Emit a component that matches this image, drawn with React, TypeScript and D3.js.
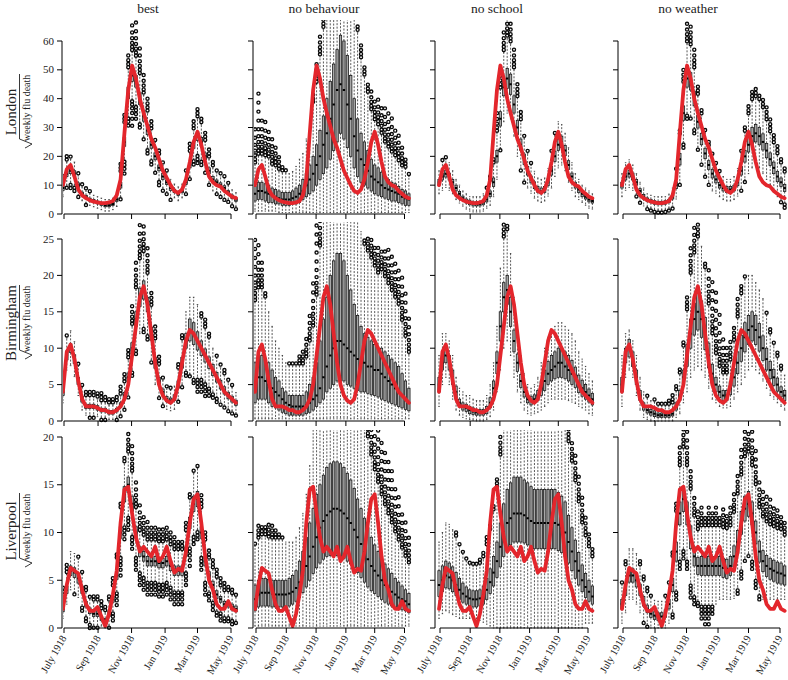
import React from 'react';
import * as d3 from 'd3';

// weekly time points (week ending), first one 29 June 1918
const firstWeek = new Date(1918, 5, 29);
const weeks = d3.range(46).map((i) => d3.timeDay.offset(firstWeek, 7 * i));

const tickLabels = ['July 1918', 'Sep 1918', 'Nov 1918', 'Jan 1919', 'Mar 1919', 'May 1919'];
const tickDates = [
  new Date(1918, 6, 1), new Date(1918, 8, 1), new Date(1918, 10, 1),
  new Date(1919, 0, 1), new Date(1919, 2, 1), new Date(1919, 4, 1),
];

const scenarios = ['best', 'no behaviour', 'no school', 'no weather'];
const cities = ['London', 'Birmingham', 'Liverpool'];

// observed sqrt(weekly flu deaths), red line
const londonObs = [10,15.5,17,13,8.5,6.5,5.5,4.8,4.3,4,3.8,3.8,4,4.5,6.5,12,28,43,51.5,47,40,35,30.5,26,23,19,15,12.5,10,8,7.3,8.5,12,18,25,28.5,24,18,13,11,10,9.5,8,7,6,5.5];
const birminghamObs = [4,9.5,10.5,8.5,5.5,3,2,2,2,1.8,1.5,1.5,1.2,1.2,1.5,2,3,5,9,13,17,18.5,16,12,8,5,3.5,2.8,2.5,3,5,8,11,12.5,12,11,10,9,8,7,6,5,4,3.5,3,2.5];
const liverpoolObs = [2,4.5,6.3,6,5.7,4,2.5,1.8,1.8,2.2,1.2,0.2,1.5,3.5,6,11,14.5,14.8,12,9.5,8,8.5,8,7.5,8.5,7,7.5,8.5,7,5.8,6.2,6,8,11,13.5,14,11,7.5,5,4,2.5,2,2,2.8,2,1.8];

// simulated boxplots: median, quartiles, extreme values (top / bot)
// London
const lonBestMed = [9,14,15,14,10,7,6,5,4.5,4,3.5,3,3,3.5,5,10,25,42,48,46,40,34,29,24,20,16,13,11,9,8,7,8,11,17,24,27,25,20,15,12,11,10,9,7.5,6,5];
const lonBestQ1 = [8.2,13,14,13,9.2,6.4,5.5,4.5,4,3.5,3,2.5,2.5,3,4.4,9,23.5,40,46,44,38,32.2,27.5,22.8,18.8,15,12,10.2,8.2,7.4,6.4,7.4,10.2,16,22.8,25.5,23.5,18.8,14,11,10.2,9.2,8.2,6.9,5.4,4.4];
const lonBestQ3 = [9.8,15,16,15,10.8,7.6,6.5,5.5,5,4.5,4,3.5,3.5,4,5.6,11,26.5,44,50,48,42,35.8,30.5,25.2,21.2,17,14,11.8,9.8,8.6,7.6,8.6,11.8,18,25.2,28.5,26.5,21.2,16,13,11.8,10.8,9.8,8.1,6.6,5.6];
const lonBestTop = [14,20,20,18,14,11,9,8,7,6,6,5,5,6,8,18,35,55,67,67,60,50,40,33,26,22,18,15,12,11,10,11,15,25,33,37,33,28,23,18,16,15,13,11,9,8];
const lonBestBot = [6,9,9,8,6,4,3,2.5,2,1.5,1,0.5,0.5,1,2,5,14,30,30,33,30,25,20,17,14,10,8,6,5,5,4,5,7,12,17,17,16,14,10,8,7,6,5,4,2,1];

const lonBehMed = [7,8,8,7.5,7,6.5,6,5.5,5,5,5,5.5,6,7,8,10,12,14,17,20,24,28,33,38,43,45,43,38,33,27,22,19,17,15,13,12,11,10,9,8.5,8,7.5,7,6,5.5,5];
const lonBehQ1 = [4.5,5,5,4.5,4,4,3.5,3.5,3,3,3,3.5,3.5,4,5,6,7,8,10,12,14,16,19,22,25,28,26,23,20,16,13,11,10,9,8,7,6.5,6,5.5,5,4.5,4.5,4,3.5,3,3];
const lonBehQ3 = [9.5,11,11,10.5,10,9,8.5,8,7.5,7.5,7.5,8,9,10,12,14,17,20,24,29,34,40,46,52,57,62,60,55,48,40,33,28,25,22,19,17,16,14.5,13,12,11,10.5,9.5,8.5,8,7];
const lonBehTop = [30,43,35,33,29,26,23,20,17,15,14,15,16.5,19,21,26,30,42,54,63,70,70,70,70,70,70,70,70,70,70,66,60,52,46,43,41,40,38,37,36,33,30,27,25,20,14];
const lonBehBot = [1,1,1,1,1,1,1,0.5,0.5,0.5,0.5,0.5,0.5,0.5,0.5,0.5,0.5,0.5,0.5,0.5,0.5,0.5,0.5,0.5,0.5,0.5,0.5,0.5,0.5,0.5,0.5,0.5,0.5,0.5,0.5,0.5,0.5,0.5,0.5,0.5,0.5,0.5,0.5,0.5,0.5,0.5];

const lonSchMed = [11,13,14,13,11,9,7,5.5,4.5,4,3.5,3.5,3.5,4,5,7,11,20,33,44,47,45,38,30,24,19,15,12,10,8.5,8,8.5,11,15,20,24,25,22,17,13,10,8.5,7,6,5,4.5];
const lonSchQ1 = [10,11.8,12.8,11.8,10,8,6.2,4.8,3.8,3.2,2.8,2.8,2.8,3.2,4.2,6,9.5,18,30.5,41,43.5,41.5,35,27.5,22,17.2,13.5,10.8,8.8,7.5,7,7.5,9.8,13.5,18.2,22,23,20.2,15.5,11.8,9,7.5,6,5.2,4.2,3.8];
const lonSchQ3 = [12,14.2,15.2,14.2,12,10,7.8,6.2,5.2,4.8,4.2,4.2,4.2,4.8,5.8,8,12.5,22,35.5,47,50.5,48.5,41,32.5,26,20.8,16.5,13.2,11.2,9.5,9,9.5,12.2,16.5,21.8,26,27,23.8,18.5,14.2,11,9.5,8,6.8,5.8,5.2];
const lonSchTop = [15,19,20,18,15,12,10,8,7,6,6,6,6,7,9,13,20,35,52,64,68,68,58,46,36,28,22,18,15,13,12,13,16,22,28,32,31,28,23,18,14,12,10,9,8,7];
const lonSchBot = [7,8,9,8,7,5,3.5,2,1.5,1,0.5,0.5,0.5,1,2,3,6,12,22,32,35,33,27,20,15,11,9,7,5.5,4.5,4,4.5,6,9,13,16,17,15,11,8,6,5,4,3,2,1];

const lonWeaMed = [10,13,14,13,11,8,6,5,4.5,4,3.8,3.8,4,4.5,6,10,19,35,47,46,40,32,26,21,17,14,12,10,9,8.5,8.5,9,11,15,20,24,27,28,27,25,22,19,16,13,11,9];
const lonWeaQ1 = [9,11.8,12.8,11.8,10,7.2,5.2,4.4,3.9,3.4,3.2,3.2,3.4,3.9,5.2,8.8,17,32.5,44,43,37.5,29.8,24,19.2,15.5,12.5,10.8,9,8,7.5,7.5,8,9.8,13.5,18,21.5,24,25,24,22.2,19.5,16.8,14,11.2,9.5,7.8];
const lonWeaQ3 = [11,14.2,15.2,14.2,12,8.8,6.8,5.6,5.1,4.6,4.4,4.4,4.6,5.1,6.8,11.2,21,37.5,50,49,42.5,34.2,28,22.8,18.5,15.5,13.2,11,10,9.5,9.5,10,12.2,16.5,22,26.5,30,31,30,27.8,24.5,21.2,18,14.8,12.5,10.2];
const lonWeaTop = [14,18,19,17,14,11,9,7,6.5,6,6,6,6,7,9,16,30,50,67,67,58,45,36,30,25,21,18,15,13,12,12,13,16,22,30,38,43,44,42,40,37,33,28,24,20,16];
const lonWeaBot = [6,8,9,8,6,4,2.5,1.5,1,0.8,0.5,0.5,0.5,1,2,5,10,22,33,33,28,22,17,13,10,8,6.5,5.5,5,4.5,4.5,5,6,8,11,14,16,17,16,14,12,10,8,6,4,2];

// Birmingham
const birBestMed = [4,9,10,8.5,5.5,3,2,2,2,1.8,1.5,1.5,1.2,1.2,1.5,2.2,3.5,6,10,14,17,18,16,12,8,5.5,4,3,2.8,3.2,5,8,11,12.5,12,11,10,9,8,7,6,5,4.2,3.5,3,2.5];
const birBestQ1 = [3.5,8.4,9.4,7.9,5,2.6,1.7,1.7,1.7,1.5,1.25,1.25,0.95,0.95,1.25,1.9,3.1,5.4,9.25,13,15.75,16.75,15,11.1,7.25,5,3.6,2.65,2.45,2.8,4.5,7.25,10,11,10.5,9.75,9,8.1,7.2,6.25,5.35,4.4,3.7,3.05,2.6,2.15];
const birBestQ3 = [4.5,9.6,10.6,9.1,6,3.4,2.3,2.3,2.3,2.1,1.75,1.75,1.45,1.45,1.75,2.5,3.9,6.6,10.75,15,18.25,19.25,17,12.9,8.75,6,4.4,3.35,3.15,3.6,5.5,8.75,12,14,13.5,12.25,11,9.9,8.8,7.75,6.65,5.6,4.7,3.95,3.4,2.85];
const birBestTop = [6,12,12.5,11,8,5,4,4,4,4,4,3.5,3,3,3.5,5,7,10,16,22,27,27,24,18,13,9,6,5,4.5,5,8,12,15,17,17,16,15,14,12,10,9,8,7,6,5,4];
const birBestBot = [2.5,7,7.5,6,3.5,1.5,0.8,0.5,0.5,0.5,0.2,0.2,0,0,0,0.5,1.5,3,6,9,12,12,11,8,5,3,2,1.5,1.2,1.5,2.5,4.5,6,6,5,4,3.5,3,3,3,2.5,2,1.5,1.2,0.8,0.5];

const birBehMed = [5,6,6,5.5,5,4.5,4,3.5,3,2.5,2.2,2,2,2,2,2.2,2.5,3,3.5,4.5,6,7.5,9,10,11,11,10.5,10,9.5,9,8.5,8,8,7.5,7.5,7,7,6.5,6,5.5,5,4.5,4,3.5,3,2.5];
const birBehQ1 = [2.5,3,3,3,2.5,2,1.8,1.5,1.2,1,0.8,0.8,0.8,0.8,0.8,1,1.2,1.5,2,2.5,3,4,4.5,5,5.5,5.5,5.5,5,4.8,4.5,4.2,4,4,3.8,3.6,3.5,3.3,3,2.8,2.6,2.4,2.2,2,1.8,1.6,1.4];
const birBehQ3 = [8,9,9,8.5,8,7,6,5.5,4.5,4,3.5,3.5,3.5,3.5,3.5,4,5,6,8,11,14,17,20,22,23,23,22,20,18,16,14.5,13,12,11.5,11,10.5,10,10,9.5,9,8.5,8,7.5,6.5,5.5,4.5];
const birBehTop = [25,25,22,18,15,13,11,10,9,8,8,8,8,9,10,12,15,20,27,28,28,28,28,28,28,28,28,28,28,28,28,26,25,25,25,24,24,24,24,24,23,22,21,20,18,15];
const birBehBot = [0.3,0.3,0.3,0.3,0.3,0.3,0.3,0.3,0.3,0.3,0.3,0.3,0.3,0.3,0.3,0.3,0.3,0.3,0.3,0.3,0.3,0.3,0.3,0.3,0.3,0.3,0.3,0.3,0.3,0.3,0.3,0.3,0.3,0.3,0.3,0.3,0.3,0.3,0.3,0.3,0.3,0.3,0.3,0.3,0.3,0.3];

const birSchMed = [5,8,9,8,6,4,2.5,2,1.8,1.5,1.3,1.2,1.2,1.2,1.5,2.5,4.5,8,13,17,18,15,11,8,5.5,4,3,2.8,3,3.5,4.5,5.5,6.5,7,7.5,8,8,7.5,7,6.5,6,5,4.5,4,3.5,3];
const birSchQ1 = [4,7,8,7,5,3.2,2,1.5,1.3,1,0.9,0.8,0.8,0.8,1,1.8,3.5,6.5,11,15,16,13,9.5,6.8,4.6,3.3,2.5,2.2,2.4,2.8,3.5,4.2,5,5.5,5.8,6,6,5.8,5.5,5,4.6,3.9,3.4,3,2.6,2.2];
const birSchQ3 = [6,9,10,9,7,4.8,3,2.5,2.3,2,1.8,1.6,1.6,1.6,2,3.2,5.5,9.5,15,19,20,17,12.5,9.2,6.4,4.7,3.5,3.4,3.6,4.2,5.5,7,8.2,9,9.5,10,10,9.5,9,8.3,7.4,6.3,5.6,5,4.4,3.8];
const birSchTop = [9,12,12,11,9,6,4.5,4,3.5,3.5,3,3,3,3,3.5,5,8,13,21,27,27,23,17,12,9,6.5,5,4.5,5,6,8,10,11.5,12.5,13,13.5,13.5,13,12.5,12,11,9.5,8.5,7.5,6.5,5.5];
const birSchBot = [2,5,6,5,3,1.5,0.8,0.5,0.3,0.2,0.1,0,0,0,0.2,0.6,1.5,4,7,10,11,9,6,4,2.5,1.5,1,0.8,1,1.2,1.5,2,2.5,3,3,3,3,3,2.8,2.6,2.4,2,1.8,1.5,1,0.8];

const birWeaMed = [5,9,10,8.5,6,3.5,2,1.5,1.2,1,0.8,0.8,0.8,0.8,1,2,3.5,6,9,12,14,15,14,12,9,6.5,5,4,3.5,3.5,4.5,6,8,10,11.5,12.5,13,12.5,11.5,10,8.5,7,6,5,4,3.5];
const birWeaQ1 = [4,8,8.8,7.5,5,2.8,1.5,1.1,0.8,0.6,0.5,0.5,0.5,0.5,0.7,1.5,2.8,5,7.5,10,11.8,12.5,11.5,9.8,7.3,5.2,4,3.2,2.8,2.8,3.6,4.8,6.5,8.2,9.5,10.5,11,10.5,9.6,8.3,7,5.8,4.9,4.1,3.3,2.8];
const birWeaQ3 = [6,10,11.2,9.5,7,4.2,2.5,1.9,1.6,1.4,1.1,1.1,1.1,1.1,1.3,2.5,4.2,7,10.5,14,16.2,17.5,16.5,14.2,10.7,7.8,6,4.8,4.2,4.2,5.4,7.2,9.5,11.8,13.5,14.5,15,14.5,13.4,11.7,10,8.2,7.1,5.9,4.7,4.2];
const birWeaTop = [9,12,12.5,11,9,6,4,3.5,3,3,2.5,2.5,2.5,3,3.5,5,7.5,11,17,24,27,27,24,22,21,20,18,15,12,10,11,13,17,19,20,20,20,19,18,17,15,13,11,9.5,8,6.5];
const birWeaBot = [2,6,7,6,3.5,1.5,0.5,0.2,0,0,0,0,0,0,0,0.5,1,2.5,4,6,7,7.5,7,6,4.5,3,2.5,2,1.8,1.8,2,3,4,5,6,7,7.5,7,6.5,5.5,4.5,3.5,3,2.5,2,1.5];

// Liverpool
const livBestMed = [2,4,6,5.8,5.2,4,2.5,1.8,1.5,1.5,1,0.8,1.5,3,5.5,10,14,15,13,10,8,7.5,7,7,7,6.8,6.8,7,6.5,6,6,6,8,11,13,13.5,10,7,5.5,4.5,3.5,3,2.5,2.5,2.2,2];
const livBestQ1 = [1.7,3.6,5.5,5.3,4.7,3.6,2.2,1.5,1.2,1.2,0.8,0.6,1.2,2.7,5.1,9.4,13.2,14.2,12.2,9.4,7.5,7,6.5,6.5,6.5,6.3,6.3,6.5,6,5.5,5.5,5.5,7.5,10.4,12.2,12.7,9.4,6.5,5.1,4.1,3.1,2.7,2.2,2.2,1.9,1.7];
const livBestQ3 = [2.3,4.4,6.5,6.3,5.7,4.4,2.8,2.1,1.8,1.8,1.2,1,1.8,3.3,5.9,10.6,14.8,15.8,13.8,10.6,8.5,8,7.5,7.5,7.5,7.3,7.3,7.5,7,6.5,6.5,6.5,8.5,11.6,13.8,14.3,10.6,7.5,5.9,4.9,3.9,3.3,2.8,2.8,2.5,2.3];
const livBestTop = [4.5,7,8,8,7.5,6,4.5,3.5,3.5,3.5,3,2.5,3.5,5.5,8,13,18,21,19,16,13,12,11.5,11,11,10.5,10.5,11,10.5,9.5,9,9,11,14,16.5,17,14,10,8.5,7.5,6.5,5.5,5,4.5,4,3.5];
const livBestBot = [1,2.5,4,3.5,3,1.5,0.5,0,0,0,0,0,0,0.5,2,5,9,10,8,6,4.5,4,3.5,3.5,3.5,3,3,3.5,3,2.5,2.5,2.5,4,6,8.5,9,6,3.5,2.5,1.5,1,0.5,0.5,0.5,0.3,0.3];

const livBehMed = [3,3.5,3.7,3.7,3.7,3.6,3.5,3.5,3.5,3.5,3.6,3.8,4.2,4.8,5.5,6.5,7.5,8.5,9.5,10.5,11.2,11.8,12.2,12.5,12.5,12.3,12,11.5,11,10.3,9.5,8.8,8,7.2,6.5,6,5.5,5,4.5,4.2,3.8,3.5,3.2,3,2.8,2.5];
const livBehQ1 = [1.8,2.2,2.3,2.3,2.3,2.2,2.2,2.2,2.2,2.2,2.3,2.5,2.8,3.2,3.7,4.3,5,5.7,6.3,6.8,7.2,7.5,7.6,7.6,7.6,7.5,7.3,7,6.7,6.3,5.8,5.3,4.8,4.3,3.9,3.6,3.3,3,2.7,2.5,2.3,2.1,2,1.9,1.8,1.6];
const livBehQ3 = [4.5,5,5.2,5.2,5.1,5,5,5,5,5,5.2,5.5,6,7,8,9.5,11,12.5,14,15,16,16.8,17.2,17.4,17.4,17.2,16.8,16.2,15.5,14.6,13.5,12.5,11.5,10.5,9.5,8.7,8,7.3,6.7,6.2,5.7,5.2,4.8,4.4,4,3.6];
const livBehTop = [9,11,11,11,11,11,10.5,10,9.5,9,9,9,9.5,10.5,12,14,17,21,22,22,22,22,22,22,22,22,22,22,22,22,22,22,22,22,22,22,22,20,19,18,17,15,14,12,11,9.5];
const livBehBot = [0.2,0.2,0.2,0.2,0.2,0.2,0.2,0.2,0.2,0.2,0.2,0.2,0.2,0.2,0.2,0.2,0.2,0.2,0.2,0.2,0.2,0.2,0.2,0.2,0.2,0.2,0.2,0.2,0.2,0.2,0.2,0.2,0.2,0.2,0.2,0.2,0.2,0.2,0.2,0.2,0.2,0.2,0.2,0.2,0.2,0.2];

const livSchMed = [4.5,5,5.5,5.3,5,4.5,4,3.6,3.3,3.1,3,3,3.1,3.4,4,4.8,5.8,7,8.5,10,11,11.5,12,12,12,11.8,11.5,11.2,11,11,11,11,11,11,11,10.8,10.5,10,9,8,7,6,5,4.3,3.8,3.3];
const livSchQ1 = [3.3,3.8,4.2,4.1,3.8,3.4,3,2.7,2.5,2.3,2.2,2.2,2.3,2.5,3,3.6,4.4,5.3,6.4,7.5,8.3,8.7,9,9,9,8.9,8.7,8.5,8.3,8.3,8.3,8.3,8.3,8.3,8.3,8.1,7.9,7.5,6.8,6,5.2,4.5,3.8,3.2,2.8,2.5];
const livSchQ3 = [6,6.5,7,6.8,6.4,5.8,5.2,4.7,4.3,4,3.9,3.9,4,4.4,5.2,6.2,7.5,9,11,13,14.5,15.2,15.8,15.8,15.8,15.5,15.2,14.8,14.5,14.5,14.5,14.5,14.5,14.5,14.5,14.2,13.8,13.2,11.8,10.5,9.2,7.9,6.6,5.7,5,4.4];
const livSchTop = [9,10,11,11,10.5,10,9,8,7.5,7,7,7,7.5,8,9.5,11,13,16,20,22,22,22,22,22,22,22,22,22,22,22,22,22,22,22,22,22,22,22,21,20,18,16,14,12,10,8.5];
const livSchBot = [1,1.5,1.8,1.6,1.4,1.2,1,1,1,1,1,1,0.8,0.6,0.4,0.2,0,0,0,0,0,0,0,0,0,0,0,0,0,0,0,0,0,0,0,0,0,0,0,0,0,0,0,0.5,0.5,0.5];

const livWeaMed = [2.5,4,5.5,5.5,5,4,2.8,2,1.5,1.3,1.2,1.2,1.5,2.5,4.5,8,12,13.5,12,9.5,7.5,6.5,6.5,6.5,6.5,6.5,6.5,6.5,6.3,6.2,6.5,7.5,9,11,12.5,13,12,10,8,7,6.5,6.2,6,5.8,5.7,5.5];
const livWeaQ1 = [2,3.4,4.8,4.8,4.3,3.4,2.3,1.6,1.1,0.9,0.8,0.8,1.1,2,3.8,7,10.8,12.2,10.8,8.3,6.5,5.6,5.5,5.5,5.5,5.5,5.5,5.5,5.3,5.2,5.5,6.4,7.8,9.8,11.2,11.7,10.8,8.8,6.9,5.9,5.4,5.1,4.9,4.7,4.6,4.5];
const livWeaQ3 = [3,4.6,6.2,6.2,5.7,4.6,3.3,2.4,1.9,1.7,1.6,1.6,1.9,3,5.2,9,13.2,14.8,13.2,10.7,8.5,7.4,7.5,7.5,7.5,7.5,7.5,7.5,7.3,7.2,7.5,8.6,10.2,12.2,13.8,14.3,13.2,11.2,9.1,8.1,7.6,7.3,7.1,6.9,6.8,6.5];
const livWeaTop = [5,7,8.5,8.5,8,7,5.5,4.5,3.5,3,3,3,3.5,5,8,13,19,22,21,17,14,12.5,13,11.5,13,12,13,11.5,12.5,12,13,14,16,19,21,22,21,19,16,14.5,14,13.5,13,12.5,12,11.5];
const livWeaBot = [0.5,1.5,3,3,2.5,1.5,0.5,0,0,0,0,0,0,0.3,1,3,6,7,6,3,2.5,2,0.5,0,0,1.5,2.5,3,3,3,3,3,3.5,5,7,7.5,6,4,3,3,3,3,3,3,3,3];

const observed = [londonObs, birminghamObs, liverpoolObs];
const boxes = [
  [
    { med: lonBestMed, q1: lonBestQ1, q3: lonBestQ3, top: lonBestTop, bot: lonBestBot },
    { med: lonBehMed, q1: lonBehQ1, q3: lonBehQ3, top: lonBehTop, bot: lonBehBot },
    { med: lonSchMed, q1: lonSchQ1, q3: lonSchQ3, top: lonSchTop, bot: lonSchBot },
    { med: lonWeaMed, q1: lonWeaQ1, q3: lonWeaQ3, top: lonWeaTop, bot: lonWeaBot },
  ],
  [
    { med: birBestMed, q1: birBestQ1, q3: birBestQ3, top: birBestTop, bot: birBestBot },
    { med: birBehMed, q1: birBehQ1, q3: birBehQ3, top: birBehTop, bot: birBehBot },
    { med: birSchMed, q1: birSchQ1, q3: birSchQ3, top: birSchTop, bot: birSchBot },
    { med: birWeaMed, q1: birWeaQ1, q3: birWeaQ3, top: birWeaTop, bot: birWeaBot },
  ],
  [
    { med: livBestMed, q1: livBestQ1, q3: livBestQ3, top: livBestTop, bot: livBestBot },
    { med: livBehMed, q1: livBehQ1, q3: livBehQ3, top: livBehTop, bot: livBehBot },
    { med: livSchMed, q1: livSchQ1, q3: livSchQ3, top: livSchTop, bot: livSchBot },
    { med: livWeaMed, q1: livWeaQ1, q3: livWeaQ3, top: livWeaTop, bot: livWeaBot },
  ],
];

// layout
const colRange = [[64, 231], [256, 404.5], [440, 588], [623, 780]];
const colAxisX = [62, 253, 435, 618];
const titleX = [148, 324, 497, 688];
const rowLayout = [
  { max: 60, step: 10, y0: 214, y1: 41, clipTop: 20, labelY: 112 },
  { max: 25, step: 5, y0: 421, y1: 239, clipTop: 222, labelY: 323 },
  { max: 20, step: 5, y0: 628, y1: 437, clipTop: 430, labelY: 531 },
];

const FONT = "'Liberation Serif', 'DejaVu Serif', serif";
const RED = '#e3262c';
const textStyle = { fontFamily: FONT };

// outlier points spread out from the whisker end, denser near the whisker
function outlierPositions(from: number, to: number, dir: number) {
  const out: number[] = [];
  let gap = 2.6;
  let p = from + dir * gap;
  while ((dir < 0 && p >= to - 0.5) || (dir > 0 && p <= to + 0.5)) {
    out.push(p);
    gap = Math.min(gap * 1.22, 9);
    p += dir * gap;
  }
  return out;
}

function Panel({ r, c }: { r: number; c: number }) {
  const row = rowLayout[r];
  const x = d3.scaleTime().domain([tickDates[0], tickDates[5]]).range(colRange[c]);
  const y = d3.scaleLinear().domain([0, row.max]).range([row.y0, row.y1]);
  const d = boxes[r][c];
  const spacing = x(weeks[1]) - x(weeks[0]);
  const bw = spacing * 0.68;
  const ax = colAxisX[c];
  const xEnd = x(weeks[weeks.length - 1]) + bw;
  const clipId = `clip-${r}-${c}`;

  const line = d3.line<number>()
    .x((_, i) => x(weeks[i]))
    .y((v) => y(v));

  const yTicks = d3.range(0, row.max + 0.001, row.step);

  return (
    <g>
      <defs>
        <clipPath id={clipId}>
          <rect x={ax + 1} y={row.clipTop} width={xEnd - ax} height={row.y0 + 3 - row.clipTop} />
        </clipPath>
      </defs>
      <g clipPath={`url(#${clipId})`}>
        {weeks.map((w, i) => {
          const cx = x(w);
          const q1 = d.q1[i];
          const q3 = d.q3[i];
          const iqr = q3 - q1;
          const wHi = Math.max(q3, Math.min(d.top[i], q3 + 1.5 * iqr));
          const wLo = Math.min(q1, Math.max(d.bot[i], q1 - 1.5 * iqr));
          const dots = [
            ...outlierPositions(y(wHi), y(d.top[i]), -1),
            ...outlierPositions(y(wLo), y(d.bot[i]), 1),
          ];
          return (
            <g key={i}>
              <line x1={cx} x2={cx} y1={y(q3)} y2={y(wHi)} stroke="#111" strokeWidth={0.7} strokeDasharray="2,1.5" />
              <line x1={cx} x2={cx} y1={y(q1)} y2={y(wLo)} stroke="#111" strokeWidth={0.7} strokeDasharray="2,1.5" />
              <line x1={cx - bw * 0.3} x2={cx + bw * 0.3} y1={y(wHi)} y2={y(wHi)} stroke="#111" strokeWidth={0.7} />
              <line x1={cx - bw * 0.3} x2={cx + bw * 0.3} y1={y(wLo)} y2={y(wLo)} stroke="#111" strokeWidth={0.7} />
              <rect x={cx - bw / 2} y={y(q3)} width={bw} height={Math.max(0.5, y(q1) - y(q3))}
                fill="#a8a8a8" stroke="#111" strokeWidth={0.75} />
              <line x1={cx - bw / 2} x2={cx + bw / 2} y1={y(d.med[i])} y2={y(d.med[i])} stroke="#000" strokeWidth={2} />
              {dots.map((py, k) => (
                <circle key={k} cx={cx} cy={py} r={1.55} fill="none" stroke="#0a0a0a" strokeWidth={1.35} />
              ))}
            </g>
          );
        })}
        <path d={line(observed[r]) || ''} fill="none" stroke={RED} strokeWidth={3.8}
          strokeLinejoin="round" strokeLinecap="round" />
      </g>
      {/* y axis */}
      <line x1={ax} x2={ax} y1={row.y0} y2={row.y1} stroke="#000" strokeWidth={1} />
      {yTicks.map((t) => (
        <g key={t}>
          <line x1={ax - 5} x2={ax} y1={y(t)} y2={y(t)} stroke="#000" strokeWidth={1} />
          {c === 0 && (
            <text x={ax - 8} y={y(t)} dy="0.33em" textAnchor="end" fontSize={11} fill="#222" style={textStyle}>{t}</text>
          )}
        </g>
      ))}
      {/* x axis */}
      <line x1={x(tickDates[0])} x2={x(tickDates[5])} y1={row.y0} y2={row.y0} stroke="#000" strokeWidth={1} />
      {tickDates.map((t, k) => (
        <g key={k}>
          <line x1={x(t)} x2={x(t)} y1={row.y0} y2={row.y0 + 5} stroke="#000" strokeWidth={1} />
          {r === 2 && (
            <text transform={`translate(${x(t) + 3},${row.y0 + 10}) rotate(-60)`} textAnchor="end"
              fontSize={10.5} fill="#222" style={textStyle}>{tickLabels[k]}</text>
          )}
        </g>
      ))}
    </g>
  );
}

function RowLabel({ r }: { r: number }) {
  const cy = rowLayout[r].labelY;
  const wc = cy - 4;
  const half = 32;
  const yB = wc + half + 8;
  return (
    <g>
      <text transform={`translate(16,${cy}) rotate(-90)`} textAnchor="middle" fontSize={15} fill="#222" style={textStyle}>
        {cities[r]}
      </text>
      <text transform={`translate(30,${wc}) rotate(-90)`} textAnchor="middle" fontSize={10} fill="#222" style={textStyle}>
        weekly flu death
      </text>
      <path d={`M25,${yB} L27,${yB - 1} L32,${yB - 4} L19.5,${yB - 9} L19.5,${wc - half - 2}`}
        fill="none" stroke="#222" strokeWidth={0.9} />
    </g>
  );
}

export default function App() {
  return (
    <svg width={788} height={680} style={{ position: 'absolute', left: 0, top: 0, background: '#fff', fontFamily: FONT }}>
      <rect width={788} height={680} fill="#fff" />
      {scenarios.map((s, c) => (
        <text key={s} x={titleX[c]} y={13} textAnchor="middle" fontSize={13.5} fill="#222" style={textStyle}>{s}</text>
      ))}
      {cities.map((_, r) => <RowLabel key={r} r={r} />)}
      {cities.map((_, r) => scenarios.map((__, c) => <Panel key={`${r}-${c}`} r={r} c={c} />))}
    </svg>
  );
}
